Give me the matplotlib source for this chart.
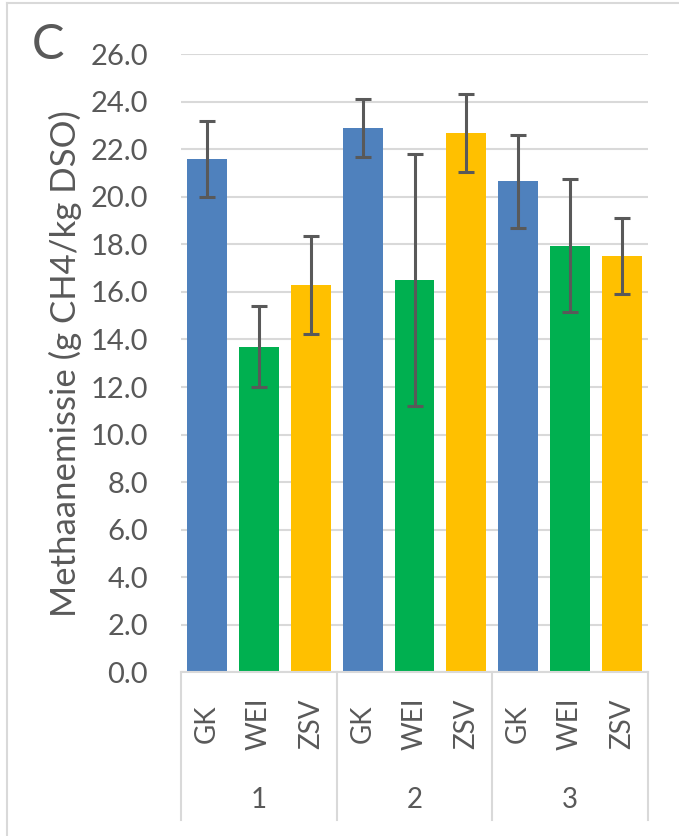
#!/usr/bin/env python3
"""Methane emission per treatment (GK, WEI, ZSV) in three periods - panel C."""

import numpy as np
import matplotlib.pyplot as plt
import matplotlib.transforms as mtransforms

periods = ['1', '2', '3']
treatments = ['GK', 'WEI', 'ZSV']
colors = ['#4F81BD', '#00B050', '#FFC000']

# mean and error half-width, per period in treatment order
means = [21.6, 13.7, 16.3,
         22.9, 16.5, 22.7,
         20.65, 17.95, 17.5]
errors = [1.6, 1.7, 2.05,
          1.2, 5.3, 1.65,
          1.95, 2.8, 1.6]

TXT = '#595959'
plt.rcParams['font.family'] = ['Lato', 'DejaVu Sans']

fig = plt.figure(figsize=(6.79, 8.36), dpi=100)
ax = fig.add_axes([0.267, 0.196, 0.687, 0.739])

x = np.arange(len(means))
bar_colors = [colors[i % 3] for i in range(len(means))]
ax.bar(x, means, width=0.77, color=bar_colors, zorder=2)
ax.errorbar(x, means, yerr=errors, fmt='none', ecolor='#595959',
            elinewidth=2.2, capsize=6, capthick=2.2, zorder=3)

ax.set_xlim(-0.5, len(means) - 0.5)
ax.set_ylim(0, 26)
ax.set_yticks(np.arange(0, 26.1, 2))
ax.set_yticklabels([f'{v:.1f}' for v in np.arange(0, 26.1, 2)])
ax.tick_params(axis='y', length=0, pad=24, labelsize=21, labelcolor=TXT)
ax.set_xticks([])
ax.yaxis.grid(True, color='#D9D9D9', linewidth=1.5, zorder=0)
for s in ax.spines.values():
    s.set_visible(False)

ax.set_ylabel('Methaanemissie (g CH4/kg DSO)', fontsize=25, color=TXT, labelpad=6)

# multi-level category axis
trans = mtransforms.blended_transform_factory(ax.transData, ax.transAxes)
ax.plot([-0.5, len(means) - 0.5], [0, 0], color='#D9D9D9', lw=1.5,
        transform=trans, clip_on=False)
for b in [-0.5, 2.5, 5.5, 8.5]:
    ax.plot([b, b], [0, -0.24], color='#D9D9D9', lw=1.5,
            transform=trans, clip_on=False)
for i in x:
    ax.text(i, -0.083, treatments[i % 3], rotation=90, ha='center', va='center',
            fontsize=20, color=TXT, transform=trans)
for g, p in enumerate(periods):
    ax.text(3 * g + 1, -0.207, p, ha='center', va='center',
            fontsize=20, color=TXT, transform=trans)

# panel letter and chart-area border
fig.text(0.071, 0.946, 'C', fontsize=35, color=TXT, ha='center', va='center')
fig.add_artist(plt.Line2D([0.010, 0.010], [0, 0.996], color='#D9D9D9', lw=1.5))
fig.add_artist(plt.Line2D([0.010, 1.0], [0.996, 0.996], color='#D9D9D9', lw=1.5))

fig.savefig('out.png', dpi=100)
